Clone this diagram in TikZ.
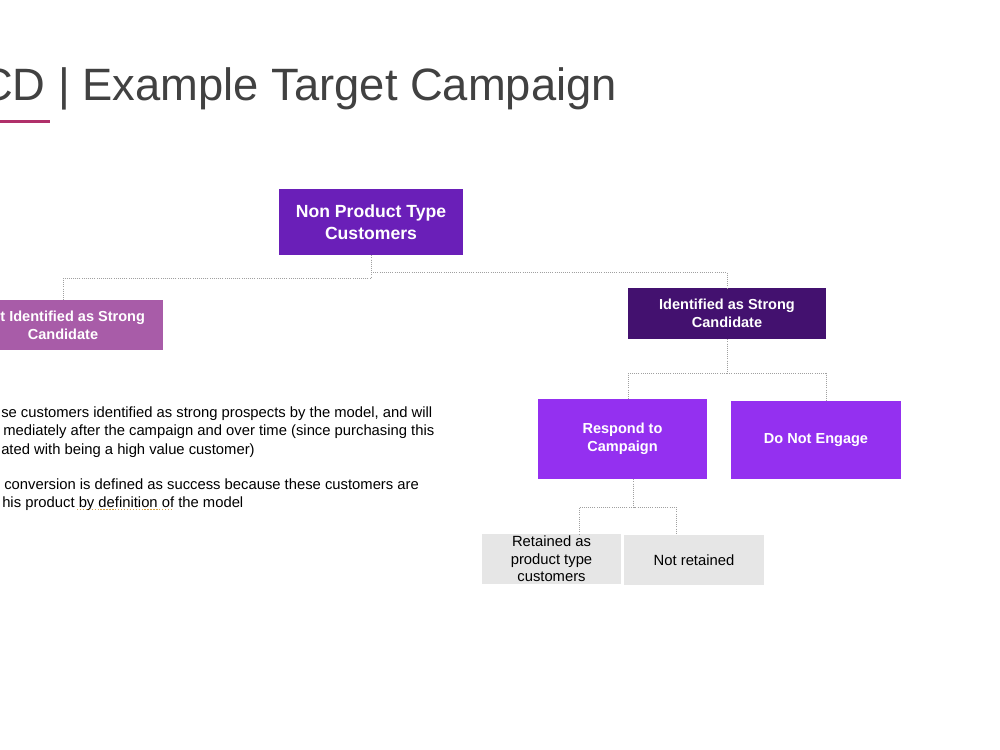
\documentclass[tikz,border=0pt]{standalone}
\usepackage{fontspec}
\setmainfont{Liberation Sans}
\definecolor{titlegray}{HTML}{414141}
\definecolor{accent}{HTML}{B0306A}
\definecolor{nptfill}{HTML}{6A1FB8}
\definecolor{nisfill}{HTML}{A85CA8}
\definecolor{iscfill}{HTML}{43116F}
\definecolor{brightfill}{HTML}{9430F0}
\definecolor{grayfill}{HTML}{E6E6E6}
\definecolor{conngray}{HTML}{A0A0A0}
\definecolor{squig}{HTML}{D9A441}
\begin{document}
\begin{tikzpicture}[x=0.75pt,y=-0.75pt,
  box/.style={rectangle,inner sep=0pt,align=center,text=white,font=\bfseries\fontsize{10.9pt}{13.7pt}\selectfont},
  graybox/.style={rectangle,inner sep=0pt,align=center,fill=grayfill,text=black,font=\fontsize{11.1pt}{13.1pt}\selectfont},
  conn/.style={draw=conngray,line width=0.7pt,dash pattern=on 0.7pt off 0.9pt},
  bodytext/.style={anchor=base west,inner sep=0pt,text=black,font=\fontsize{11.1pt}{13.9pt}\selectfont}]
\useasboundingbox (0,0) rectangle (1000,750);
\clip (0,0) rectangle (1000,750);
\fill[white] (0,0) rectangle (1000,750);
% title
\node[anchor=base west,inner sep=0pt,text=titlegray,font=\fontsize{34pt}{40pt}\selectfont] (title) at (-20,100) {CD | Example Target Campaign};
\fill[accent] (0,119.5) rectangle (50,122.5);
% nodes
\node[box,fill=nptfill,minimum width=184*0.75pt,minimum height=66*0.75pt,font=\bfseries\fontsize{13.2pt}{16.5pt}\selectfont] (npt) at (371,222) {Non Product Type\\Customers};
\node[box,fill=nisfill,minimum width=200*0.75pt,minimum height=50*0.75pt] (nis) at (63,325) {Not Identified as Strong\\Candidate};
\node[box,fill=iscfill,minimum width=198*0.75pt,minimum height=51*0.75pt] (isc) at (727,313.5) {Identified as Strong\\Candidate};
\node[box,fill=brightfill,minimum width=169*0.75pt,minimum height=80*0.75pt] (resp) at (622.5,439) {Respond to\\Campaign};
\node[box,fill=brightfill,minimum width=170*0.75pt,minimum height=78*0.75pt] (dne) at (816,440) {Do Not Engage};
\node[graybox,minimum width=139*0.75pt,minimum height=50*0.75pt] (ret) at (551.5,559) {Retained as\\product type\\customers};
\node[graybox,minimum width=140*0.75pt,minimum height=50*0.75pt] (nret) at (694,560) {Not retained};
% connectors
\draw[conn] (npt.south) -- ++(0,23) -| (nis.north);
\draw[conn] (npt.south) -- ++(0,17) -| (isc.north);
\draw[conn] (isc.south) -- ++(0,34) -| ([xshift=5.5*0.75pt]resp.north);
\draw[conn] (isc.south) -- ++(0,34) -| ([xshift=10*0.75pt]dne.north);
\draw[conn] ([xshift=11*0.75pt]resp.south) -- ++(0,28) -| ([xshift=27.5*0.75pt]ret.north);
\draw[conn] ([xshift=11*0.75pt]resp.south) -- ++(0,28) -| ([xshift=-18*0.75pt]nret.north);
% body text
\node[bodytext] (t1) at (1,417) {se customers identified as strong prospects by the model, and will};
\node[bodytext] (t2) at (3,435.5) {mediately after the campaign and over time (since purchasing this};
\node[bodytext] (t3) at (1,454) {ated with being a high value customer)};
\node[bodytext] (t4) at (4,489) {conversion is defined as success because these customers are};
\node[bodytext] (t5) at (2,507) {his product by definition of the model};
\draw[squig,line width=1pt,dash pattern=on 1pt off 1.2pt] (77,509.5) -- (172,509.5);
\end{tikzpicture}
\end{document}
